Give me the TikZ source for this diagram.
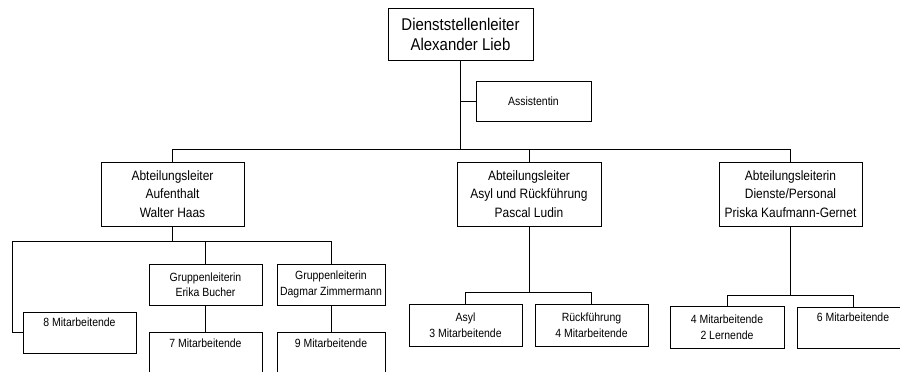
\documentclass[tikz,border=0pt]{standalone}
\usepackage{fontspec}
\setmainfont{Liberation Sans}
\newfontfamily\nar[FakeStretch=0.88]{Liberation Sans}
\tikzset{
  bx/.style={draw, line width=1pt, inner sep=0pt, align=center, fill=white},
  big/.style={font=\nar\fontsize{17}{20}\selectfont},
  mid/.style={font=\nar\fontsize{13.6}{18.5}\selectfont},
  sml/.style={font=\nar\fontsize{11.9}{15.5}\selectfont},
  con/.style={line width=1pt}
}
\begin{document}
\begin{tikzpicture}[x=1pt,y=-1pt]
\useasboundingbox (0,0) rectangle (900,372);
% top level
\node[bx,big,minimum width=145,minimum height=52] (top) at (460.5,34) {Dienststellenleiter\\Alexander Lieb};
\node[bx,sml,minimum width=115,minimum height=40] (asst) at (533.5,101) {Assistentin};
% department heads
\node[bx,mid,minimum width=143,minimum height=64] (A1) at (172.5,194) {Abteilungsleiter\\Aufenthalt\\Walter Haas};
\node[bx,mid,minimum width=144,minimum height=64] (A2) at (529,194) {Abteilungsleiter\\Asyl und Rückführung\\Pascal Ludin};
\node[bx,mid,minimum width=143,minimum height=64] (A3) at (790.5,194) {Abteilungsleiterin\\Dienste/Personal\\Priska Kaufmann-Gernet};
% left subtree
\node[bx,sml,minimum width=113,minimum height=41] (G8) at (79.5,332.5) {8 Mitarbeitende\\\strut};
\node[bx,sml,minimum width=113,minimum height=41] (GL1) at (205.5,284.5) {Gruppenleiterin\\Erika Bucher};
\node[bx,sml,minimum width=108,minimum height=41] (GL2) at (331,284.5) {Gruppenleiterin\\Dagmar Zimmermann};
\node[bx,sml,minimum width=113,minimum height=42] (M7) at (205.5,353) {7 Mitarbeitende\\\strut};
\node[bx,sml,minimum width=108,minimum height=42] (M9) at (331,353) {9 Mitarbeitende\\\strut};
% middle subtree
\node[bx,sml,minimum width=113,minimum height=42] (asyl) at (465.5,325) {Asyl\\3 Mitarbeitende};
\node[bx,sml,minimum width=113,minimum height=42] (rueck) at (591.5,325) {Rückführung\\4 Mitarbeitende};
% right subtree
\node[bx,sml,minimum width=114,minimum height=42] (L4) at (727,327) {4 Mitarbeitende\\2 Lernende};
\node[bx,sml,minimum width=112,minimum height=41] (M6) at (853,327.5) {6 Mitarbeitende\\\strut};
% connector coordinates
\coordinate (bus) at (0,149);
\coordinate (lc) at (12,241);
\coordinate (mb) at (0,292);
\coordinate (rb) at (0,295);
% connectors
\draw[con] (top.south) -- (top.south |- bus);
\draw[con] (asst.west) -- (asst.west -| top.south);
\draw[con] (A1.north) |- (bus -| A3.north) -- (A3.north);
\draw[con] (A2.north) -- (A2.north |- bus);
\draw[con] (A1.south) -- (A1.south |- lc);
\draw[con] (G8.west) -| (lc) -| (GL2.north);
\draw[con] (GL1.north) -- (GL1.north |- lc);
\draw[con] (GL1.south) -- (M7.north);
\draw[con] (GL2.south) -- (M9.north);
\draw[con] (A2.south) -- (A2.south |- mb);
\draw[con] (asyl.north) |- (mb -| rueck.north) -- (rueck.north);
\draw[con] (A3.south) -- (A3.south |- rb);
\draw[con] (L4.north) |- (rb -| M6.north) -- (M6.north);
\end{tikzpicture}
\end{document}
